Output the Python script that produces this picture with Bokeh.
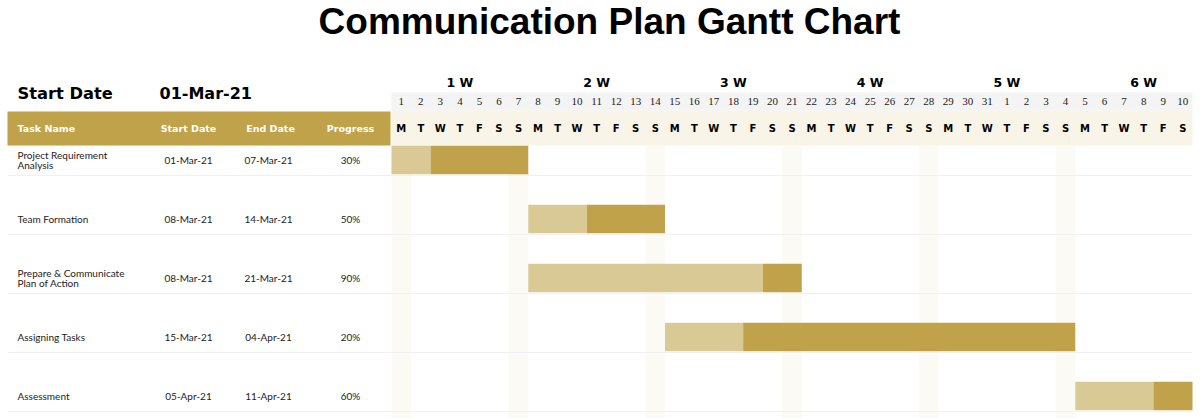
from datetime import datetime, timedelta
import math
from bokeh.plotting import figure
from bokeh.models import Range1d
from bokeh.core.properties import value
from bokeh.embed import file_html
from bokeh.resources import INLINE

# ---------------- data ----------------
title_text = "Communication Plan Gantt Chart"
chart_start = "01-Mar-21"
num_days = 41
week_labels = ["1 W", "2 W", "3 W", "4 W", "5 W", "6 W"]
header_labels = ["Task Name", "Start Date", "End Date", "Progress"]
tasks = ["Project  Requirement\nAnalysis", "Team  Formation",
         "Prepare  &  Communicate\nPlan  of  Action", "Assigning  Tasks", "Assessment"]
start_dates = ["01-Mar-21", "08-Mar-21", "08-Mar-21", "15-Mar-21", "05-Apr-21"]
end_dates = ["07-Mar-21", "14-Mar-21", "21-Mar-21", "04-Apr-21", "11-Apr-21"]
progress = [30, 50, 90, 20, 60]
highlight_days = [1, 7, 14, 21, 28, 35]
day_letters_cycle = ["M", "T", "W", "T", "F", "S", "S"]

# ---------------- layout helpers (pixel -> data) ----------------
W, H = 1200, 418
X0 = 391.0
D = (1192.0 - 391.0) / num_days
Y0, R = 159.5, 59.0


def X(px):
    return (px - X0) / D


def Y(py):
    return (py - Y0) / R


fmt = "%d-%b-%y"
d0 = datetime.strptime(chart_start, fmt)
days = [d0 + timedelta(days=i) for i in range(num_days)]
day_numbers = [str(d.day) for d in days]
day_letters = [day_letters_cycle[d.weekday()] for d in days]

p = figure(width=W, height=H, output_backend="svg", toolbar_location=None,
           x_range=Range1d(X(0), X(W)), y_range=Range1d(Y(H), Y(0)),
           min_border=0, min_border_left=0, min_border_right=0,
           min_border_top=0, min_border_bottom=0)
p.axis.visible = False
p.grid.visible = False
p.outline_line_color = None
p.background_fill_color = "white"
p.border_fill_color = "white"

GOLD = "#C0A24B"
LIGHT = "#D9C994"

# highlight stripes
p.quad(left=[d - 1 for d in highlight_days], right=highlight_days,
       top=Y(145), bottom=Y(H), fill_color="#FCFAF4", line_color=None)

# row separator lines
sep_y = [i + Y(175) - Y(Y0) for i in range(len(tasks))]
p.segment(x0=X(7), x1=num_days, y0=sep_y, y1=sep_y, line_color="#F1F1F1", line_width=1)

# header backgrounds
p.quad(left=0, right=num_days, top=Y(92), bottom=Y(110), fill_color="#F4F4F4", line_color=None)
p.quad(left=0, right=num_days, top=Y(110), bottom=Y(145), fill_color="#F8F4E8", line_color=None)
p.quad(left=X(7), right=X(390), top=Y(111), bottom=Y(145), fill_color=GOLD, line_color=None)

# title
p.text(x=[X(609)], y=[Y(21)], text=[title_text], text_align="center", text_baseline="middle",
       text_font=value("Liberation Sans"), text_font_style="bold", text_font_size="37px",
       text_color="black")

# start date
p.text(x=[X(17)], y=[Y(93)], text=["Start Date"], text_align="left", text_baseline="middle",
       text_font=value("DejaVu Sans"), text_font_style="bold", text_font_size="16.3px",
       text_color="black")
p.text(x=[X(159)], y=[Y(93)], text=[chart_start], text_align="left", text_baseline="middle",
       text_font=value("DejaVu Sans"), text_font_style="bold", text_font_size="16px",
       text_color="black")

# week labels
p.text(x=[w * 7 + 3.5 for w in range(len(week_labels))], y=Y(82), text=week_labels,
       text_align="center", text_baseline="middle", text_font=value("DejaVu Sans"),
       text_font_style="bold", text_font_size="12.5px", text_color="black")

# day numbers and letters
centers = [i + 0.5 for i in range(num_days)]
p.text(x=centers, y=Y(101), text=day_numbers, text_align="center", text_baseline="middle",
       text_font=value("Liberation Serif"), text_font_size="11px", text_color="#222222")
p.text(x=centers, y=Y(128), text=day_letters, text_align="center", text_baseline="middle",
       text_font=value("DejaVu Sans"), text_font_style="bold", text_font_size="10px",
       text_color="black")

# table header
hx = [X(17), X(188), X(270), X(350)]
ha = ["left", "center", "center", "center"]
for xx, lab, al in zip(hx, header_labels, ha):
    p.text(x=[xx], y=[Y(128)], text=[lab], text_align=al, text_baseline="middle",
           text_font=value("DejaVu Sans"), text_font_style="bold", text_font_size="9.5px",
           text_color="white")

# bars
starts = [(datetime.strptime(s, fmt) - d0).days for s in start_dates]
ends = [(datetime.strptime(e, fmt) - d0).days + 1 for e in end_dates]
durs = [e - s for s, e in zip(starts, ends)]
mids = [s + math.floor(pr / 100 * du) for s, pr, du in zip(starts, progress, durs)]
ends_vis = [min(e, num_days) for e in ends]
rows = list(range(len(tasks)))
p.hbar(y=rows, left=starts, right=mids, height=0.48, fill_color=LIGHT, line_color=None)
p.hbar(y=rows, left=mids, right=ends_vis, height=0.48, fill_color=GOLD, line_color=None)

# table rows
txt = dict(text_baseline="middle", text_font=value("Lato"), text_font_size="10px",
           text_color="#222222")
p.text(x=X(17), y=rows, text=tasks, text_align="left", text_line_height=0.85, **txt)
p.text(x=X(188), y=rows, text=start_dates, text_align="center", **txt)
p.text(x=X(268), y=rows, text=end_dates, text_align="center", **txt)
p.text(x=X(350), y=rows, text=[f"{v}%" for v in progress], text_align="center", **txt)

open("out.html", "w").write(file_html(p, INLINE))
